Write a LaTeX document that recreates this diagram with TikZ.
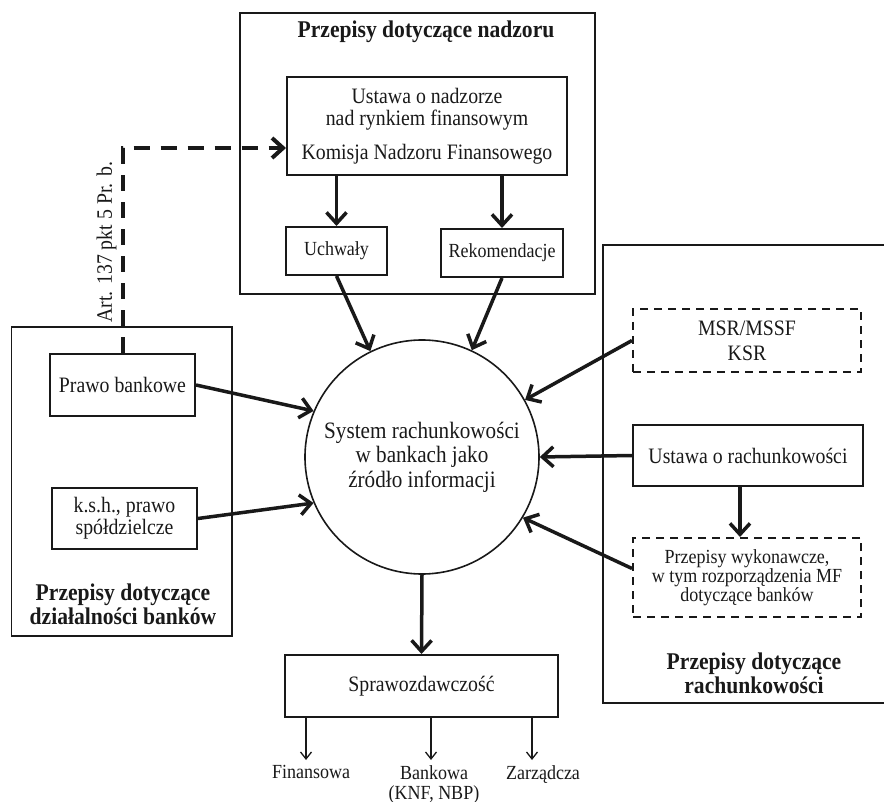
\documentclass[tikz,border=0pt]{standalone}
\usepackage{fontspec}
\setmainfont{Liberation Serif}[FakeStretch=0.9]
\usetikzlibrary{arrows.meta}
\definecolor{diagink}{RGB}{25,25,25}
\newcommand{\basesize}{\fontsize{22}{22}\selectfont}
\newcommand{\smallsize}{\fontsize{20}{19}\selectfont}
\newcommand{\titlesize}{\fontsize{24}{24}\selectfont\bfseries}
\tikzset{
	grpbox/.style={draw=diagink, line width=1.2pt, inner sep=0pt},
	grptitle/.style={align=center, inner sep=0pt, text=diagink, font=\titlesize},
	lawbox/.style={draw=diagink, line width=2pt, inner sep=0pt, align=center, text=diagink, font=\basesize},
	softbox/.style={lawbox, dash pattern=on 8pt off 6pt},
	hubcircle/.style={circle, draw=diagink, line width=1.6pt, minimum size=234pt, inner sep=0pt,
		align=center, text=diagink, font=\fontsize{23.5}{24.5}\selectfont},
	outlabel/.style={anchor=north, inner sep=0pt, align=center, text=diagink, font=\fontsize{20}{20}\selectfont},
	flow/.style={draw=diagink, line width=3.5pt, -{Straight Barb[length=11pt,width=20pt]}},
	dashflow/.style={draw=diagink, line width=4pt, dash pattern=on 16pt off 11pt,
		-{Straight Barb[length=11pt,width=20pt]}},
	outflow/.style={draw=diagink, line width=1.3pt, -{Straight Barb[length=7pt,width=11pt]}}
}
\begin{document}
\begin{tikzpicture}[x=1pt, y=-1pt]
	\useasboundingbox (0,0) rectangle (884,802);

	\node[grpbox, minimum width=355pt, minimum height=281pt] (nadzor) at (417.5,153.5) {};
	\node[grpbox, minimum width=220.5pt, minimum height=309pt] (dzial) at (121.75,481.5) {};
	\node[grpbox, minimum width=287pt, minimum height=458pt] (rach) at (746.5,474) {};

	\node[grptitle] (nadzortitle) at (426,32) {Przepisy dotyczące nadzoru};
	\node[grptitle] (dzialtitle) at (123,604) {Przepisy dotyczące\\działalności banków};
	\node[grptitle] (rachtitle) at (754,673.5) {Przepisy dotyczące\\rachunkowości};

	\node[lawbox, minimum width=280pt, minimum height=98pt] (ust) at (427,126) {
		Ustawa o nadzorze\\
		nad rynkiem finansowym\\[12pt]
		Komisja Nadzoru Finansowego};
	\node[lawbox, font=\smallsize, minimum width=101pt, minimum height=48pt] (uchw) at (336.5,251) {Uchwały};
	\node[lawbox, font=\smallsize, minimum width=122pt, minimum height=48pt] (rek) at (502,253) {Rekomendacje};

	\node[lawbox, minimum width=145pt, minimum height=62pt] (pb) at (122.5,385) {Prawo bankowe};
	\node[lawbox, minimum width=145pt, minimum height=61pt] (ksh) at (124.5,518.5) {k.s.h., prawo\\spółdzielcze};

	\node[softbox, font=\fontsize{22}{25}\selectfont, minimum width=228pt, minimum height=63pt] (msr) at (747,340.5) {MSR/MSSF\\KSR};
	\node[lawbox, minimum width=230pt, minimum height=61pt] (urach) at (748,455.5) {Ustawa o rachunkowości};
	\node[softbox, font=\smallsize, minimum width=228pt, minimum height=79pt] (wyk) at (747,577.5) {
		Przepisy wykonawcze,\\
		w tym rozporządzenia MF\\
		dotyczące banków};

	\node[hubcircle] (sys) at (422,457) {System rachunkowości\\w bankach jako\\źródło informacji};

	\node[lawbox, minimum width=273pt, minimum height=62pt] (spr) at (421.5,686) {Sprawozdawczość};
	\node[outlabel] (fin) at (311,765) {Finansowa};
	\node[outlabel] (bank) at (434,765) {Bankowa\\(KNF, NBP)};
	\node[outlabel] (zarz) at (543,765) {Zarządcza};

	\coordinate (dashrow) at (0,148);
	\coordinate (wykarr) at (740,0);
	\coordinate (finarr) at (306,760);
	\coordinate (bankarr) at (431,760);
	\coordinate (zarzarr) at (532,760);

	\draw[dashflow] (pb.north) |- node[pos=0.27, rotate=90, anchor=south, inner sep=4pt, text=diagink, font=\basesize] (artlabel) {Art. 137 pkt 5 Pr. b.} (ust.west |- dashrow);

	\draw[flow] (uchw.north |- ust.south) -- (uchw.north);
	\draw[flow] (rek.north |- ust.south) -- (rek.north);
	\draw[flow] (uchw.south) -- (sys.116);
	\draw[flow] (rek.south) -- (sys.65);
	\draw[flow] (pb.east) -- (sys.157);
	\draw[flow] (ksh.east) -- (sys.203);
	\draw[flow] (msr.west) -- (sys.29);
	\draw[flow] (urach.west) -- (sys.0);
	\draw[flow] ([yshift=9pt]wyk.west) -- (sys.329);
	\draw[flow] (urach.south -| wykarr) -- (wyk.north -| wykarr);
	\draw[flow] (sys.south) -- (spr.north);

	\draw[outflow] (spr.south -| finarr) -- (finarr);
	\draw[outflow] (spr.south -| bankarr) -- (bankarr);
	\draw[outflow] (spr.south -| zarzarr) -- (zarzarr);
\end{tikzpicture}
\end{document}
